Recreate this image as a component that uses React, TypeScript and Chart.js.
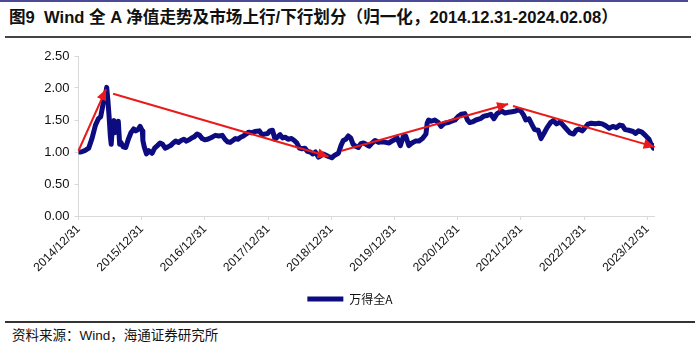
import React, { useEffect, useRef } from 'react';
import { Chart, registerables } from 'chart.js';

Chart.register(...registerables);

const seriesName = '万得全A';
const axisStart = '2014-12-31';
const axisEnd = '2024-02-08';

const navDates = [
  '2014-12-31', '2015-01-15', '2015-02-05', '2015-02-28', '2015-03-20', '2015-04-08', '2015-04-25', '2015-05-08',
  '2015-05-20', '2015-05-28', '2015-06-05', '2015-06-12', '2015-06-19', '2015-06-26', '2015-07-03', '2015-07-08',
  '2015-07-15', '2015-07-24', '2015-07-28', '2015-08-07', '2015-08-18', '2015-08-26', '2015-09-02', '2015-09-15',
  '2015-09-30', '2015-10-15', '2015-10-30', '2015-11-15', '2015-11-27', '2015-12-10', '2015-12-22', '2016-01-04',
  '2016-01-07', '2016-01-15', '2016-01-28', '2016-02-10', '2016-02-29', '2016-03-15', '2016-03-31', '2016-04-15',
  '2016-04-30', '2016-05-15', '2016-05-31', '2016-06-15', '2016-06-30', '2016-07-15', '2016-07-31', '2016-08-15',
  '2016-08-31', '2016-09-15', '2016-09-30', '2016-10-15', '2016-10-31', '2016-11-15', '2016-11-30', '2016-12-15',
  '2016-12-30', '2017-01-15', '2017-01-31', '2017-02-15', '2017-03-01', '2017-03-20', '2017-04-10', '2017-04-25',
  '2017-05-10', '2017-05-25', '2017-06-10', '2017-06-25', '2017-07-10', '2017-07-25', '2017-08-10', '2017-08-25',
  '2017-09-10', '2017-09-25', '2017-10-15', '2017-11-10', '2017-11-25', '2017-12-10', '2017-12-29', '2018-01-10',
  '2018-01-25', '2018-02-09', '2018-02-25', '2018-03-10', '2018-03-25', '2018-04-10', '2018-04-25', '2018-05-15',
  '2018-05-31', '2018-06-15', '2018-06-30', '2018-07-15', '2018-07-31', '2018-08-15', '2018-08-31', '2018-09-15',
  '2018-09-30', '2018-10-18', '2018-10-31', '2018-11-15', '2018-11-30', '2018-12-15', '2019-01-03', '2019-01-20',
  '2019-02-10', '2019-02-25', '2019-03-10', '2019-03-25', '2019-04-08', '2019-04-22', '2019-05-06', '2019-05-20',
  '2019-06-05', '2019-06-20', '2019-07-05', '2019-07-20', '2019-08-06', '2019-08-20', '2019-09-10', '2019-09-30',
  '2019-10-20', '2019-11-10', '2019-11-30', '2019-12-15', '2019-12-31', '2020-01-14', '2020-02-03', '2020-02-20',
  '2020-03-05', '2020-03-23', '2020-04-10', '2020-04-30', '2020-05-20', '2020-06-10', '2020-06-30', '2020-07-07',
  '2020-07-15', '2020-07-31', '2020-08-20', '2020-09-10', '2020-09-25', '2020-10-15', '2020-11-05', '2020-11-25',
  '2020-12-15', '2020-12-31', '2021-01-20', '2021-02-10', '2021-02-25', '2021-03-10', '2021-03-25', '2021-04-15',
  '2021-05-10', '2021-05-31', '2021-06-20', '2021-07-10', '2021-07-28', '2021-08-15', '2021-09-10', '2021-09-30',
  '2021-10-20', '2021-11-10', '2021-11-30', '2021-12-15', '2021-12-31', '2022-01-15', '2022-01-28', '2022-02-15',
  '2022-03-10', '2022-03-20', '2022-04-10', '2022-04-26', '2022-05-15', '2022-05-31', '2022-06-20', '2022-07-05',
  '2022-07-25', '2022-08-15', '2022-08-31', '2022-09-20', '2022-10-10', '2022-10-31', '2022-11-15', '2022-11-30',
  '2022-12-20', '2022-12-30', '2023-01-20', '2023-02-10', '2023-03-05', '2023-03-25', '2023-04-15', '2023-05-05',
  '2023-05-25', '2023-06-15', '2023-07-05', '2023-07-25', '2023-08-10', '2023-08-25', '2023-09-15', '2023-10-10',
  '2023-10-25', '2023-11-10', '2023-11-30', '2023-12-20', '2024-01-10', '2024-01-22', '2024-02-05', '2024-02-08',
];

const navValues = [
  1.00, 1.00, 1.02, 1.06, 1.22, 1.42, 1.52, 1.55,
  1.72, 1.84, 1.90, 2.01, 1.80, 1.55, 1.25, 1.12,
  1.40, 1.49, 1.30, 1.42, 1.48, 1.12, 1.15, 1.08,
  1.07, 1.20, 1.30, 1.36, 1.33, 1.35, 1.40, 1.33,
  1.18, 1.08, 0.97, 1.02, 0.98, 1.06, 1.10, 1.14,
  1.12, 1.06, 1.08, 1.10, 1.14, 1.17, 1.15, 1.18,
  1.20, 1.17, 1.19, 1.22, 1.24, 1.28, 1.26, 1.21,
  1.19, 1.20, 1.22, 1.24, 1.26, 1.25, 1.26, 1.20,
  1.16, 1.15, 1.18, 1.21, 1.20, 1.23, 1.25, 1.28,
  1.31, 1.30, 1.32, 1.33, 1.27, 1.28, 1.29, 1.33,
  1.34, 1.20, 1.24, 1.27, 1.22, 1.23, 1.20, 1.21,
  1.18, 1.14, 1.06, 1.05, 1.06, 1.01, 1.00, 0.97,
  1.00, 0.92, 0.94, 0.97, 0.95, 0.93, 0.91, 0.95,
  0.98, 1.10, 1.18, 1.20, 1.25, 1.22, 1.12, 1.09,
  1.07, 1.13, 1.14, 1.12, 1.09, 1.13, 1.18, 1.15,
  1.16, 1.15, 1.14, 1.17, 1.19, 1.23, 1.10, 1.24,
  1.25, 1.10, 1.14, 1.17, 1.17, 1.21, 1.28, 1.45,
  1.50, 1.48, 1.50, 1.46, 1.40, 1.45, 1.46, 1.48,
  1.50, 1.55, 1.59, 1.60, 1.50, 1.46, 1.47, 1.50,
  1.52, 1.56, 1.57, 1.59, 1.52, 1.60, 1.64, 1.61,
  1.62, 1.63, 1.64, 1.66, 1.64, 1.58, 1.50, 1.52,
  1.40, 1.35, 1.34, 1.21, 1.30, 1.38, 1.46, 1.49,
  1.44, 1.47, 1.42, 1.36, 1.30, 1.28, 1.34, 1.36,
  1.33, 1.36, 1.43, 1.45, 1.44, 1.45, 1.44, 1.41,
  1.37, 1.40, 1.38, 1.42, 1.41, 1.35, 1.34, 1.32,
  1.29, 1.33, 1.31, 1.26, 1.20, 1.12, 1.06, 1.10,
];

// Trend arrows (start -> tip)
const arrowStartDates = ['2014-12-31', '2015-07-19', '2019-03-01', '2021-11-15'];
const arrowStartValues = [1.02, 1.91, 1.02, 1.72];
const arrowEndDates = ['2015-06-08', '2018-12-15', '2021-10-18', '2024-02-12'];
const arrowEndValues = [1.98, 0.93, 1.75, 1.08];

const xTickDates = [
  '2014-12-31', '2015-12-31', '2016-12-31', '2017-12-31', '2018-12-31',
  '2019-12-31', '2020-12-31', '2021-12-31', '2022-12-31', '2023-12-31',
];
const xTickLabels = [
  '2014/12/31', '2015/12/31', '2016/12/31', '2017/12/31', '2018/12/31',
  '2019/12/31', '2020/12/31', '2021/12/31', '2022/12/31', '2023/12/31',
];
const yMin = 0;
const yMax = 2.5;
const yStep = 0.5;

const titleText = '图9  Wind 全 A 净值走势及市场上行/下行划分（归一化，2014.12.31-2024.02.08）';
const sourceText = '资料来源：Wind，海通证券研究所';

const DAY = 86400000;
const toX = (d: string) => (Date.parse(d) - Date.parse(axisStart)) / DAY;

const NAVY = '#0c0c80';
const RED = '#ea1a1a';
const AXIS = '#d9d9d9';
const FONT = '"Liberation Sans", Arial, "Noto Sans CJK SC", sans-serif';

const arrowHeads = {
  id: 'arrowHeads',
  afterDatasetsDraw(chart: any) {
    const ctx = chart.ctx;
    chart.data.datasets.forEach((ds: any, i: number) => {
      if (!ds.isArrow) return;
      const pts = chart.getDatasetMeta(i).data;
      if (pts.length < 2) return;
      const a = pts[pts.length - 2];
      const b = pts[pts.length - 1];
      const ang = Math.atan2(b.y - a.y, b.x - a.x);
      const L = 11;
      const W = 5;
      const c = Math.cos(ang);
      const s = Math.sin(ang);
      ctx.save();
      ctx.fillStyle = ds.borderColor;
      ctx.beginPath();
      ctx.moveTo(b.x, b.y);
      ctx.lineTo(b.x - L * c + W * s, b.y - L * s - W * c);
      ctx.lineTo(b.x - L * c - W * s, b.y - L * s + W * c);
      ctx.closePath();
      ctx.fill();
      ctx.restore();
    });
  },
};

// center the legend across the full canvas width
const legendCenter = {
  id: 'legendCenter',
  afterLayout(chart: any) {
    const lg = chart.legend;
    if (!lg) return;
    lg.left = 0;
    lg.right = chart.width;
    lg.width = chart.width;
  },
};

export default function App() {
  const ref = useRef<HTMLCanvasElement | null>(null);

  useEffect(() => {
    if (!ref.current) return;
    const arrowSets = arrowStartDates.map((d, i) => ({
      label: 'arrow' + i,
      isArrow: true,
      data: [
        { x: toX(d), y: arrowStartValues[i] },
        { x: toX(arrowEndDates[i]), y: arrowEndValues[i] },
      ],
      borderColor: RED,
      backgroundColor: RED,
      borderWidth: 2,
      pointRadius: 0,
      clip: false,
      order: 0,
    }));
    const chart = new Chart(ref.current, {
      type: 'line',
      data: {
        datasets: [
          {
            label: seriesName,
            data: navDates.map((d, i) => ({ x: toX(d), y: navValues[i] })),
            borderColor: NAVY,
            backgroundColor: NAVY,
            borderWidth: 5,
            pointRadius: 0,
            tension: 0,
            borderJoinStyle: 'round',
            borderCapStyle: 'round',
            order: 1,
          } as any,
          ...(arrowSets as any[]),
        ],
      },
      options: {
        animation: false,
        responsive: false,
        maintainAspectRatio: false,
        events: [],
        layout: { padding: { top: 16, left: 0, right: 46, bottom: 6 } },
        plugins: {
          legend: {
            position: 'bottom',
            labels: {
              filter: (item: any) => item.datasetIndex === 0,
              usePointStyle: true,
              pointStyle: 'line',
              pointStyleWidth: 36,
              boxHeight: 12,
              padding: 10,
              color: '#111',
              font: { family: '"Noto Sans CJK SC", sans-serif', size: 12 },
            },
          },
          tooltip: { enabled: false },
        },
        scales: {
          x: {
            type: 'linear',
            min: 0,
            max: toX(axisEnd),
            afterBuildTicks: (s: any) => {
              s.ticks = xTickDates.map((d) => ({ value: toX(d) }));
            },
            afterFit: (s: any) => {
              s.height = 67;
            },
            ticks: {
              autoSkip: false,
              minRotation: 45,
              maxRotation: 45,
              padding: 2,
              color: '#111',
              font: { family: FONT, size: 12 },
              callback: (_v: any, i: number) => xTickLabels[i],
            },
            grid: { drawOnChartArea: false, drawTicks: true, tickLength: 4, color: AXIS },
            border: { color: AXIS, width: 1 },
          },
          y: {
            min: yMin,
            max: yMax,
            afterFit: (s: any) => {
              s.width = 78.5;
            },
            ticks: {
              stepSize: yStep,
              padding: 5,
              color: '#111',
              font: { family: FONT, size: 13 },
              callback: (v: any) => Number(v).toFixed(2),
            },
            grid: { drawOnChartArea: false, drawTicks: true, tickLength: 4, color: AXIS },
            border: { color: AXIS, width: 1 },
          },
        },
      } as any,
      plugins: [arrowHeads, legendCenter],
    });
    return () => chart.destroy();
  }, []);

  return (
    <div
      style={{
        position: 'absolute',
        left: 0,
        top: 0,
        width: 700,
        height: 351,
        background: '#fff',
        overflow: 'hidden',
      }}
    >
      <div style={{ position: 'absolute', left: 0, top: 0, width: 688, height: 2, background: '#4a4a96' }} />
      <div
        style={{
          position: 'absolute',
          left: 9,
          top: 8,
          whiteSpace: 'pre',
          fontFamily: '"Liberation Sans", Arial, "Noto Sans CJK SC", sans-serif',
          fontWeight: 'bold',
          fontSize: 16.6,
          lineHeight: '20px',
          color: '#111',
        }}
      >
        {titleText}
      </div>
      <div style={{ position: 'absolute', left: 5, top: 36, width: 686, height: 2, background: '#444' }} />
      <canvas
        ref={ref}
        width={700}
        height={281}
        style={{ position: 'absolute', left: 0, top: 40, width: 700, height: 281 }}
      />
      <div style={{ position: 'absolute', left: 5, top: 321, width: 690, height: 2, background: '#333' }} />
      <div
        style={{
          position: 'absolute',
          left: 12,
          top: 327,
          whiteSpace: 'nowrap',
          fontFamily: '"Liberation Sans", Arial, "Noto Sans CJK SC", sans-serif',
          fontSize: 13.5,
          lineHeight: '18px',
          color: '#111',
        }}
      >
        {sourceText}
      </div>
    </div>
  );
}
